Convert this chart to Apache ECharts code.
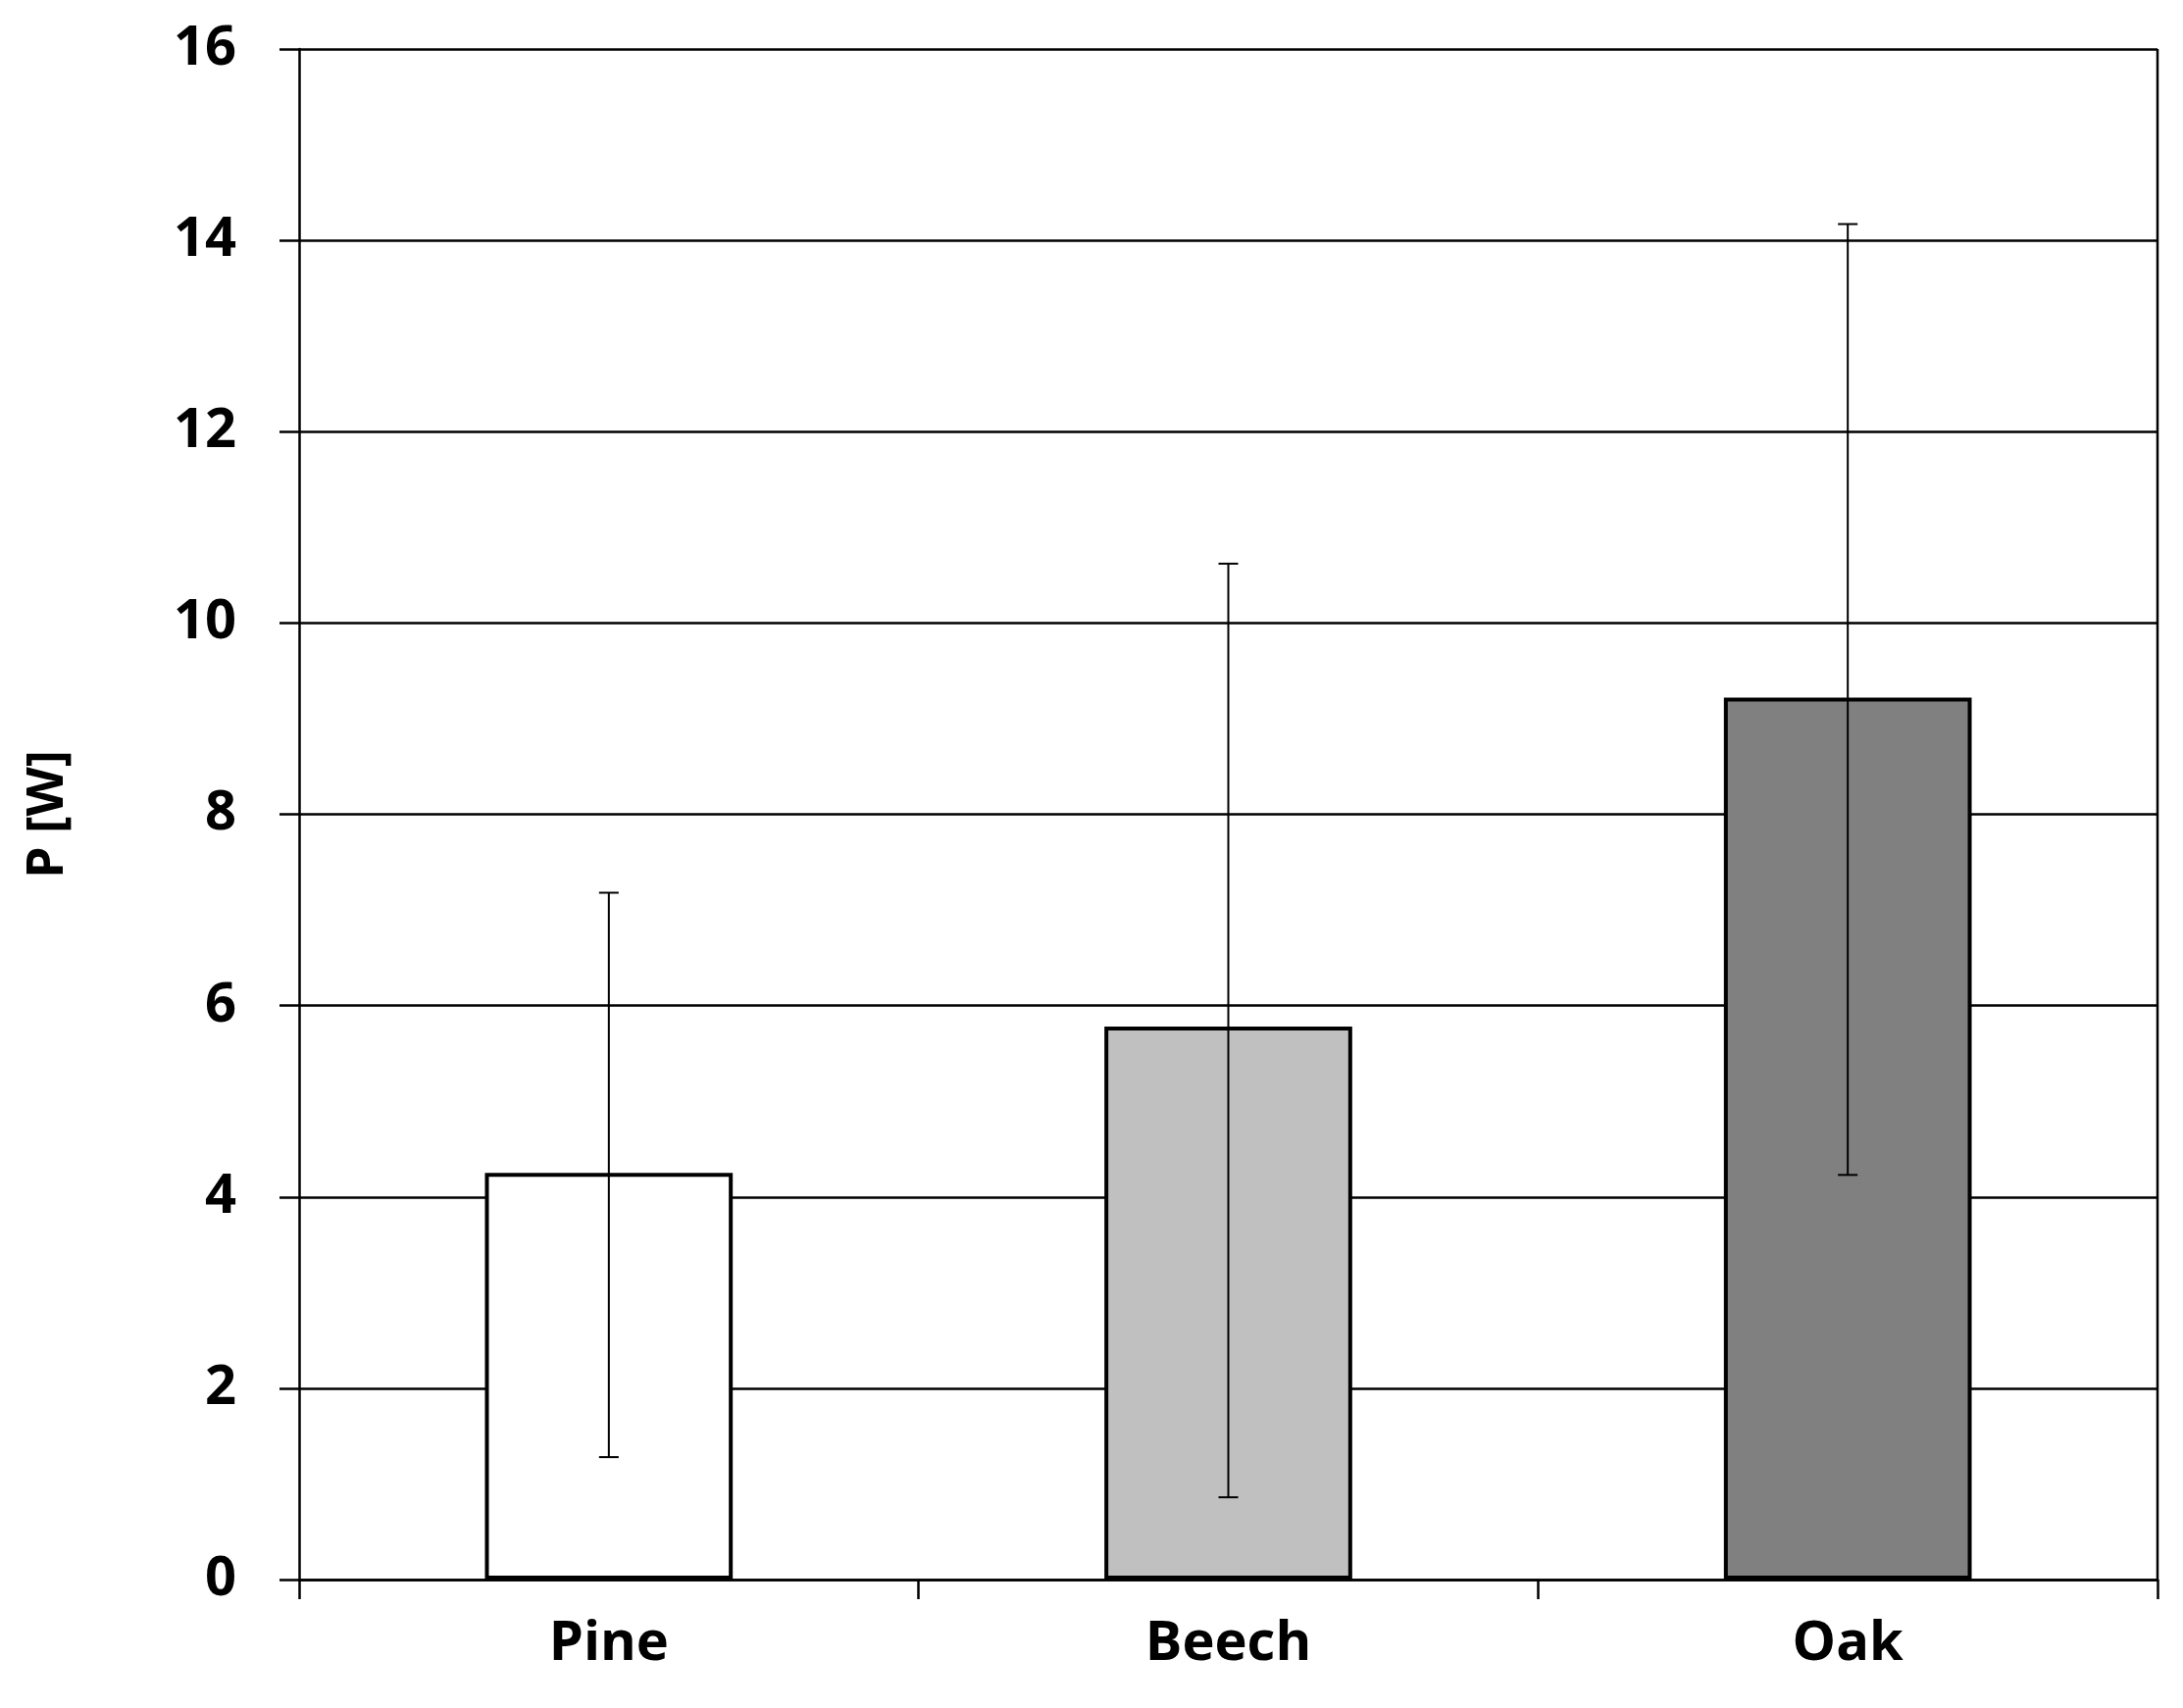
<!DOCTYPE html>
<html lang="en">
<head>
    <meta charset="UTF-8">
    <title>P [W]</title>
    <script src="https://cdn.jsdelivr.net/npm/echarts@6/dist/echarts.min.js"></script>
    <style>html,body{margin:0;padding:0;background:#fff;}</style>
</head>
<body>
    <div id="main" style="width: 2226px;height:1742px;"></div>
    <script type="text/javascript">
        var categories = ['Pine', 'Beech', 'Oak'];
        var values = [4.25, 5.78, 9.22];
        var errLow = [1.28, 0.86, 4.23];
        var errHigh = [7.18, 10.62, 14.17];
        var barColors = ['#ffffff', '#c0c0c0', '#808080'];

        var font = 'Open Sans';
        var myChart = echarts.init(document.getElementById('main'));

        var errData = categories.map(function (c, i) { return [i, errLow[i], errHigh[i]]; });

        var option = {
            backgroundColor: '#fff',
            animation: false,
            grid: { left: 305, right: 26, top: 50, bottom: 131 },
            xAxis: {
                type: 'category',
                data: categories,
                axisLine: { lineStyle: { color: '#000', width: 2.5 } },
                axisTick: { show: true, length: 20, lineStyle: { color: '#000', width: 2.5 } },
                axisLabel: { color: '#000', fontFamily: font, fontWeight: 'bold', fontSize: 56, margin: 38 }
            },
            yAxis: {
                type: 'value',
                min: 0, max: 16, interval: 2,
                name: 'P [W]',
                nameLocation: 'middle',
                nameGap: 230,
                nameTextStyle: { color: '#000', fontFamily: font, fontWeight: 'bold', fontSize: 52 },
                axisLine: { show: true, lineStyle: { color: '#000', width: 2.5 } },
                axisTick: { show: true, length: 20, lineStyle: { color: '#000', width: 2.5 } },
                axisLabel: { color: '#000', fontFamily: font, fontWeight: 'bold', fontSize: 56, margin: 64 },
                splitLine: { lineStyle: { color: '#000', width: 2.5 } }
            },
            series: [
                {
                    type: 'bar',
                    barWidth: '40%',
                    data: values.map(function (v, i) {
                        return { value: v, itemStyle: { color: barColors[i], borderColor: '#000', borderWidth: 4 } };
                    })
                },
                {
                    type: 'custom',
                    data: errData,
                    z: 10,
                    renderItem: function (params, api) {
                        var x = api.value(0);
                        var lo = api.coord([x, api.value(1)]);
                        var hi = api.coord([x, api.value(2)]);
                        var cap = 10;
                        var st = { stroke: '#000', lineWidth: 2 };
                        return {
                            type: 'group',
                            children: [
                                { type: 'line', shape: { x1: lo[0], y1: lo[1], x2: hi[0], y2: hi[1] }, style: st },
                                { type: 'line', shape: { x1: hi[0] - cap, y1: hi[1], x2: hi[0] + cap, y2: hi[1] }, style: st },
                                { type: 'line', shape: { x1: lo[0] - cap, y1: lo[1], x2: lo[0] + cap, y2: lo[1] }, style: st }
                            ]
                        };
                    }
                }
            ],
            graphic: [
                { type: 'line', shape: { x1: 2200, y1: 50, x2: 2200, y2: 1611 }, style: { stroke: '#000', lineWidth: 2.5 } }
            ]
        };
        myChart.setOption(option);
    </script>
</body>
</html>
